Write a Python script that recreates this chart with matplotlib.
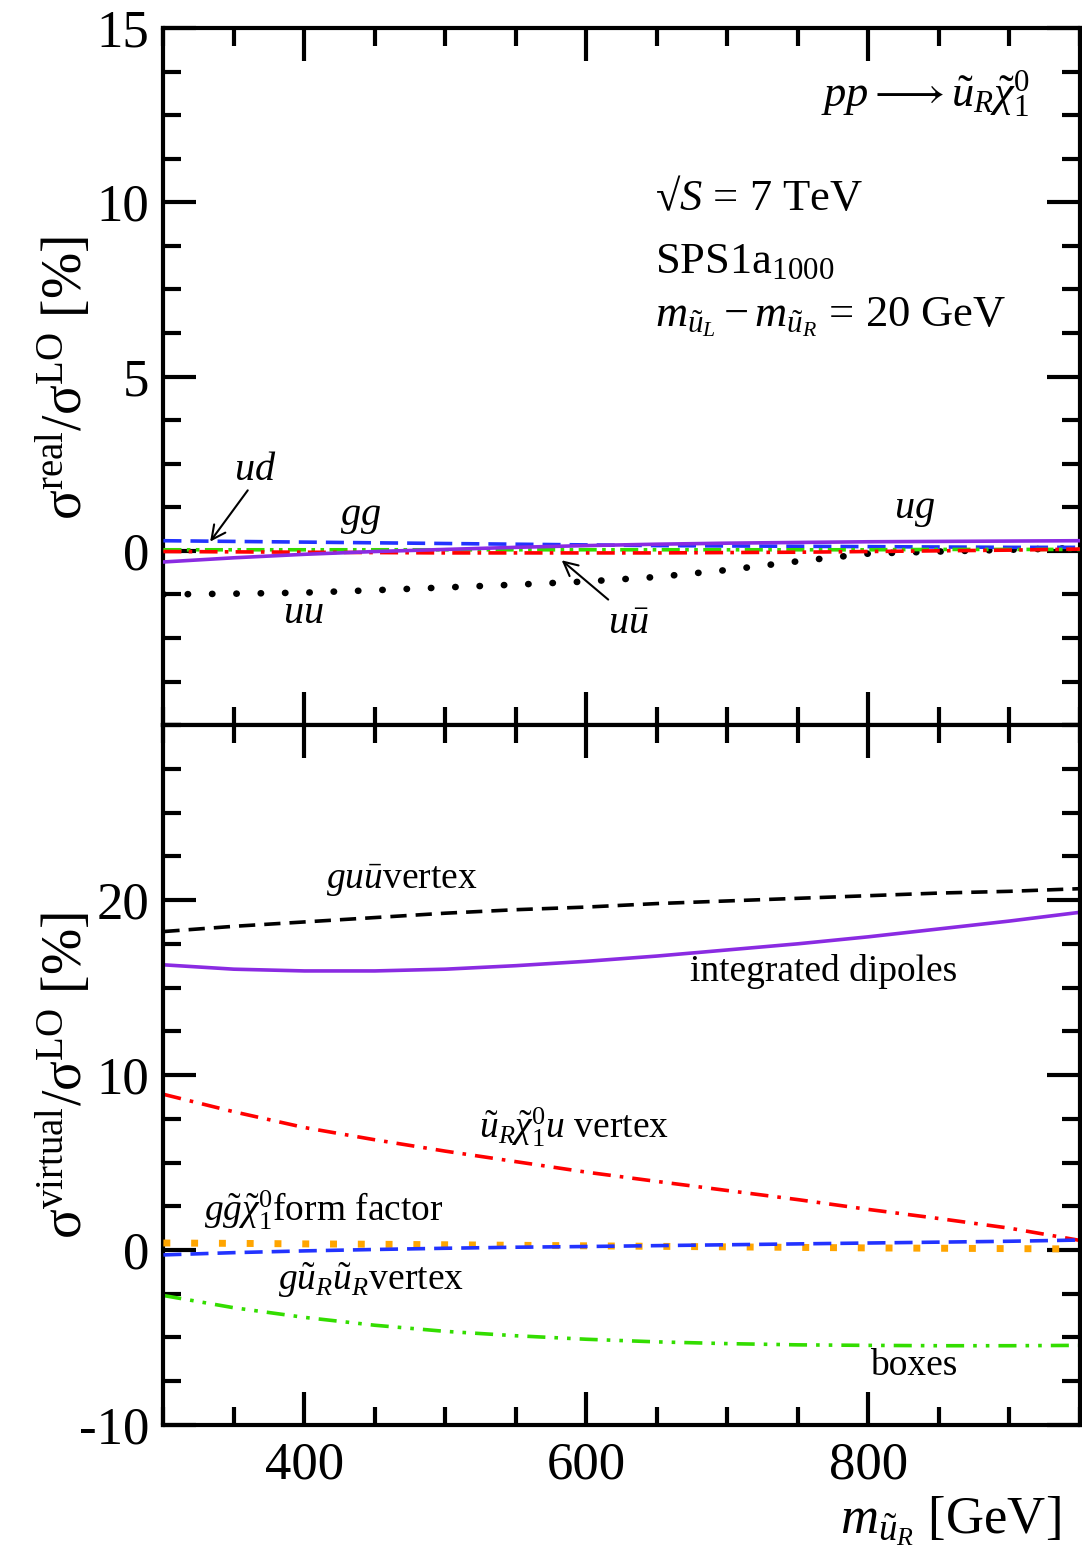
import numpy as np
import matplotlib
matplotlib.use("Agg")
import matplotlib.pyplot as plt
from matplotlib.ticker import MultipleLocator

plt.rcParams['font.family'] = ['Liberation Serif', 'DejaVu Serif']
plt.rcParams['mathtext.fontset'] = 'custom'
plt.rcParams['mathtext.rm'] = 'Liberation Serif'
plt.rcParams['mathtext.it'] = 'Liberation Serif:italic'
plt.rcParams['mathtext.bf'] = 'Liberation Serif:bold'
plt.rcParams['axes.unicode_minus'] = False

# ---------------- data ----------------
mass = [300, 350, 400, 450, 500, 550, 600, 650, 700, 750, 800, 850, 900, 950]

# real corrections (top panel)
real_ud = [0.29, 0.27, 0.25, 0.23, 0.21, 0.19, 0.17, 0.15, 0.14, 0.13, 0.12, 0.11, 0.10, 0.10]
real_ug = [-0.32, -0.2, -0.1, -0.02, 0.04, 0.1, 0.15, 0.19, 0.22, 0.24, 0.26, 0.27, 0.28, 0.29]
real_gg = [0.03, 0.03, 0.03, 0.03, 0.03, 0.03, 0.03, 0.03, 0.03, 0.03, 0.03, 0.04, 0.04, 0.04]
real_uubar = [-0.02, -0.03, -0.04, -0.05, -0.06, -0.06, -0.06, -0.06, -0.05, -0.04, -0.02, 0.0, 0.02, 0.05]
real_uu = [-1.25, -1.23, -1.2, -1.13, -1.05, -0.97, -0.88, -0.75, -0.55, -0.3, -0.08, -0.02, 0.03, 0.08]

# virtual corrections (bottom panel)
virt_guu = [18.2, 18.5, 18.75, 19.0, 19.25, 19.45, 19.6, 19.8, 19.95, 20.1, 20.25, 20.4, 20.5, 20.65]
virt_dipoles = [16.3, 16.05, 15.95, 15.95, 16.05, 16.25, 16.5, 16.8, 17.15, 17.5, 17.9, 18.35, 18.8, 19.3]
virt_uchiu = [8.9, 7.9, 7.0, 6.3, 5.65, 5.05, 4.45, 3.92, 3.4, 2.88, 2.32, 1.8, 1.25, 0.55]
virt_formfactor = [0.4, 0.38, 0.35, 0.33, 0.3, 0.27, 0.24, 0.21, 0.18, 0.15, 0.12, 0.1, 0.08, 0.06]
virt_guRuR = [-0.28, -0.15, -0.05, 0.03, 0.1, 0.16, 0.2, 0.25, 0.3, 0.35, 0.4, 0.45, 0.5, 0.57]
virt_boxes = [-2.6, -3.3, -3.85, -4.3, -4.65, -4.9, -5.1, -5.25, -5.35, -5.42, -5.45, -5.47, -5.47, -5.45]

# ---------------- figure ----------------
fig = plt.figure(figsize=(10.82, 15.56), dpi=100)
L, W = 0.151, 0.847
ax1 = fig.add_axes([L, 0.534, W, 0.448])
ax2 = fig.add_axes([L, 0.0842, W, 0.4498])

TICKFS = 38
lw = 2.6

def style(ax, ymaj, ymin):
    ax.set_xlim(300, 950)
    ax.xaxis.set_major_locator(MultipleLocator(200))
    ax.xaxis.set_minor_locator(MultipleLocator(50))
    ax.yaxis.set_major_locator(MultipleLocator(ymaj))
    ax.yaxis.set_minor_locator(MultipleLocator(ymin))
    ax.tick_params(which='both', direction='in', top=True, right=True,
                   width=3, labelsize=TICKFS)
    ax.tick_params(which='major', length=24)
    ax.tick_params(which='minor', length=13)
    for s in ax.spines.values():
        s.set_linewidth(3)

style(ax1, 5, 1.25)
style(ax2, 10, 2.5)
ax1.set_ylim(-5, 15)
ax2.set_ylim(-10, 30)
ax1.set_yticks([0, 5, 10, 15])
ax2.set_yticks([-10, 0, 10, 20])
ax1.tick_params(labelbottom=False)
ax1.tick_params(axis='y', pad=10)
ax2.tick_params(axis='y', pad=10)
ax2.tick_params(axis='x', pad=12)

m = np.array(mass)
# top panel curves
ax1.plot(m, real_uu, color='black', lw=4.8, linestyle=(0, (0.05, 3.6)),
         dash_capstyle='round', zorder=3)
ax1.plot(m, real_ud, color='#2233ff', lw=lw, linestyle=(0, (5, 2.5)), zorder=4)
ax1.plot(m, real_gg, color='#33dd00', lw=lw, linestyle=(0, (5, 1.5, 1, 1.5, 1, 1.5)), zorder=4)
ax1.plot(m, real_uubar, color='red', lw=lw, linestyle=(0, (5, 2, 1, 2)), zorder=4)
ax1.plot(m, real_ug, color='#8a2be2', lw=lw, zorder=5)

tfs = 29
ax1.text(365, 2.3, r'$ud$', fontsize=tfs, ha='center', va='center')
ax1.annotate('', xy=(332, 0.2), xytext=(361, 1.8),
             arrowprops=dict(arrowstyle='->', color='black', lw=1.5, mutation_scale=25))
ax1.text(440, 0.95, r'$gg$', fontsize=tfs, ha='center', va='center')
ax1.text(399, -1.8, r'$uu$', fontsize=tfs, ha='center', va='center')
ax1.text(630, -2.1, r'$u\bar{u}$', fontsize=tfs, ha='center', va='center')
ax1.annotate('', xy=(581, -0.22), xytext=(617, -1.45),
             arrowprops=dict(arrowstyle='->', color='black', lw=1.5, mutation_scale=25))
ax1.text(833, 1.15, r'$ug$', fontsize=tfs, ha='center', va='center')

ifs = 32
ax1.text(0.945, 0.905, r'$pp \longrightarrow \tilde{u}_R\tilde{\chi}^0_1$', transform=ax1.transAxes,
         fontsize=ifs, ha='right', va='center')
ax1.text(0.536, 0.755, '√$S$ = 7 TeV', transform=ax1.transAxes,
         fontsize=ifs, ha='left', va='center')
ax1.text(0.536, 0.665, r'SPS1a$_{1000}$', transform=ax1.transAxes,
         fontsize=ifs, ha='left', va='center')
ax1.text(0.536, 0.585, r'$m_{\tilde{u}_L}-m_{\tilde{u}_R}$ = 20 GeV', transform=ax1.transAxes,
         fontsize=ifs, ha='left', va='center')

# bottom panel curves
ax2.plot(m, virt_guu, color='black', lw=lw, linestyle=(0, (4.5, 2.5)))
ax2.plot(m, virt_dipoles, color='#8a2be2', lw=lw)
ax2.plot(m, virt_uchiu, color='red', lw=lw, linestyle=(0, (5, 2.5, 1, 2.5)))
ax2.plot(m, virt_formfactor, color='orange', lw=5, linestyle=(0, (1, 3)), zorder=3)
ax2.plot(m, virt_guRuR, color='#2233ff', lw=lw, linestyle=(0, (5, 2.5)), zorder=4)
ax2.plot(m, virt_boxes, color='#33dd00', lw=lw, linestyle=(0, (5, 2.5, 1, 2.5, 1, 2.5)))

bfs = 27
ax2.text(469, 21.1, r'$g u\bar{u}$vertex', fontsize=bfs, ha='center', va='center')
ax2.text(768, 15.9, 'integrated dipoles', fontsize=bfs, ha='center', va='center')
ax2.text(591, 7.0, r'$\tilde{u}_R\tilde{\chi}^0_1u$ vertex', fontsize=bfs, ha='center', va='center')
ax2.text(414, 2.3, r'$g\tilde{g}\tilde{\chi}^0_1$form factor', fontsize=bfs, ha='center', va='center')
ax2.text(447, -1.7, r'$g\tilde{u}_R\tilde{u}_R$vertex', fontsize=bfs, ha='center', va='center')
ax2.text(832, -6.6, 'boxes', fontsize=bfs, ha='center', va='center')

# axis labels
lfs = 40
fig.text(0.06, 0.757, 'σ$^{\\mathrm{real}}$/σ$^{\\mathrm{LO}}$ [%]', rotation=90,
         fontsize=lfs, ha='center', va='center')
fig.text(0.06, 0.309, 'σ$^{\\mathrm{virtual}}$/σ$^{\\mathrm{LO}}$ [%]', rotation=90,
         fontsize=lfs, ha='center', va='center')
fig.text(0.878, 0.022, r'$m_{\tilde{u}_R}$ [GeV]', fontsize=38, ha='center', va='center')

fig.savefig('out.png', dpi=100)
